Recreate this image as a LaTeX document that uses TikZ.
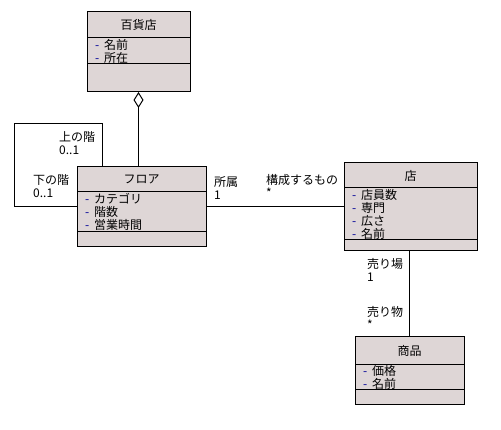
\documentclass[tikz,border=0pt]{standalone}
\usepackage{fontspec}
\setmainfont{Noto Sans CJK JP}
\usetikzlibrary{arrows.meta, positioning, fit}
\definecolor{clsfill}{RGB}{222,214,214}
\definecolor{dashblue}{RGB}{0,0,150}
\newcommand{\attr}[1]{\textcolor{dashblue}{-}\hspace{5pt}#1}

\begin{document}
\begin{tikzpicture}[
    x=1pt, y=-1pt,
    node distance=0pt,
    every node/.style={font=\fontsize{12}{13}\selectfont},
    clstitle/.style={draw, fill=clsfill, line width=1pt, minimum width=#1, inner sep=0pt, outer sep=0pt, anchor=north west},
    clsattr/.style={draw, fill=clsfill, line width=1pt, minimum width=#1, text width=#1-16pt, inner xsep=8pt, inner ysep=0pt, outer sep=0pt, align=left},
    clsops/.style={draw, fill=clsfill, line width=1pt, minimum width=#1, inner sep=0pt, outer sep=0pt},
    box/.style={fit=#1, inner sep=0pt, outer sep=0pt},
    role/.style={anchor=north west, align=left, inner sep=0pt},
    assoc/.style={line width=1pt}
]
\useasboundingbox (0,0) rectangle (501,430);

% 百貨店
\node[clstitle=103pt, minimum height=26pt] (dept-title) at (87,12) {百貨店};
\node[clsattr=103pt, minimum height=26pt, below=of dept-title] (dept-attr) {\attr{名前}\\\attr{所在}};
\node[clsops=103pt, minimum height=28pt, below=of dept-attr] (dept-ops) {};
\node[box=(dept-title)(dept-ops)] (dept) {};

% フロア
\node[clstitle=129pt, minimum height=25pt] (floor-title) at (77,167) {フロア};
\node[clsattr=129pt, minimum height=40pt, below=of floor-title] (floor-attr) {\attr{カテゴリ}\\\attr{階数}\\\attr{営業時間}};
\node[clsops=129pt, minimum height=15pt, below=of floor-attr] (floor-ops) {};
\node[box=(floor-title)(floor-ops)] (floor) {};

% 店
\node[clstitle=133pt, minimum height=25pt] (store-title) at (344,163) {店};
\node[clsattr=133pt, minimum height=52pt, below=of store-title] (store-attr) {\attr{店員数}\\\attr{専門}\\\attr{広さ}\\\attr{名前}};
\node[clsops=133pt, minimum height=11pt, below=of store-attr] (store-ops) {};
\node[box=(store-title)(store-ops)] (store) {};

% 商品
\node[clstitle=109pt, minimum height=28pt] (item-title) at (355,337) {商品};
\node[clsattr=109pt, minimum height=25pt, below=of item-title] (item-attr) {\attr{価格}\\\attr{名前}};
\node[clsops=109pt, minimum height=15pt, below=of item-attr] (item-ops) {};
\node[box=(item-title)(item-ops)] (item) {};

% 集約
\draw[assoc, {Diamond[open, length=16pt, width=10pt]}-] (dept.south) -- (dept.south |- floor.north);

% 自己関連
\coordinate (loop-a) at (102,124);
\coordinate (loop-b) at (14,124);
\coordinate (loop-c) at (14,207);
\draw[assoc] (floor.north -| loop-a) -- (loop-a) -- (loop-b) -- (loop-c) -- (floor.west);
\node[role] (upper) at (59,131) {上の階\\0..1};
\node[role] (lower) at (33,174) {下の階\\0..1};

% 関連
\draw[assoc] (floor.east) -- (store.west);
\node[role] (belong) at (214,176) {所属\\1};
\node[role] (member) at (266,174) {構成するもの\\*};

\draw[assoc] (item.north) -- (item.north |- store.south);
\node[role] (place) at (367,258) {売り場\\1};
\node[role] (goods) at (367,306) {売り物\\*};

\end{tikzpicture}
\end{document}
